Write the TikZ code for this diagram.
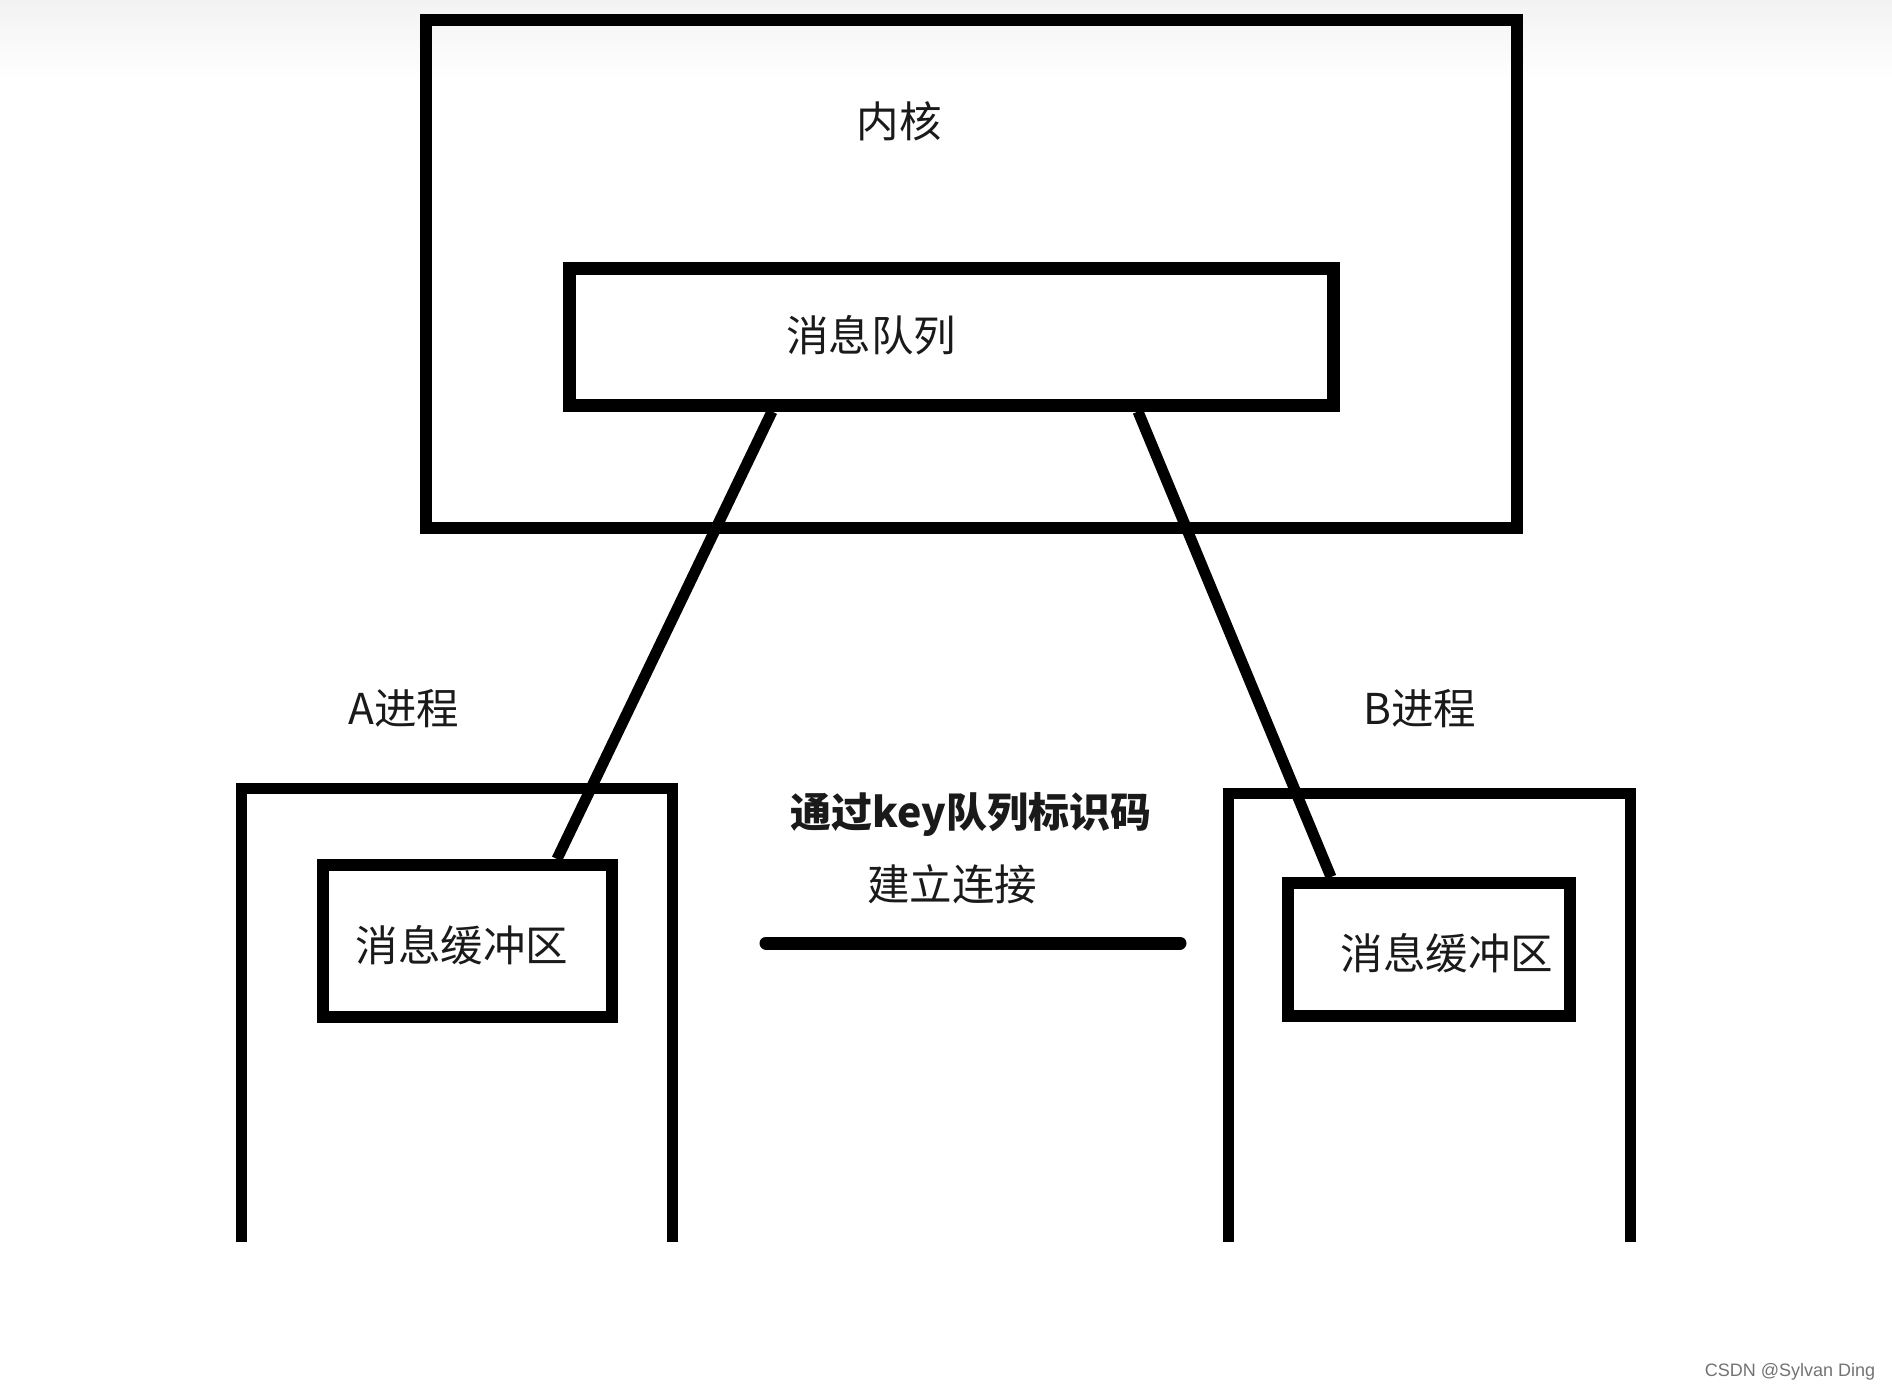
\documentclass[tikz,border=0pt]{standalone}
\usepackage{fontspec}
\setmainfont{Liberation Sans}
\newfontfamily\cjk{Noto Sans CJK SC}
\usetikzlibrary{calc}
\definecolor{ink}{HTML}{1A1A1A}
\tikzset{
  box/.style={draw=black, rectangle, inner sep=0pt, fill=none, line join=miter},
  lbl/.style={text=ink, font=\cjk\fontsize{42.5}{50}\selectfont, inner sep=0pt, anchor=center},
  wire/.style={draw=black, line width=11pt},
}
\begin{document}
\begin{tikzpicture}[x=1pt,y=-1pt]
\useasboundingbox (0,0) rectangle (1892,1392);
\fill[white] (0,0) rectangle (1892,1392);
\shade[top color=black!5, bottom color=white] (0,0) rectangle (1892,80);
% kernel box
\node[box, line width=12pt, minimum width=1091pt, minimum height=508pt] (kernel) at (971.5,274) {};
\node[box, line width=13pt, minimum width=764pt, minimum height=137pt] (queue) at (951,336.5) {};
% process frames (open at bottom)
\draw[line width=11pt, line join=miter] (241,1242) -- (241,788) -- (672,788) -- (672,1242);
\draw[line width=11pt, line join=miter] (1228,1242) -- (1228,793) -- (1630,793) -- (1630,1242);
% buffers
\node[box, line width=12pt, minimum width=289pt, minimum height=152pt] (bufA) at (467.5,941) {};
\node[box, line width=12pt, minimum width=282pt, minimum height=133pt] (bufB) at (1429,949.5) {};
% connectors
\draw[wire] ([xshift=-179pt]queue.south) -- ([xshift=89.5pt]bufA.north);
\draw[wire] ([xshift=187pt]queue.south) -- ([xshift=-98pt]bufB.north);
\coordinate (m1) at (766,943);
\coordinate (m2) at (1180,943);
\draw[line width=13pt, line cap=round] (m1) -- (m2);
% labels
\node[lbl] (tkernel) at (899,121) {内核};
\node[lbl] (tqueue) at (871,335) {消息队列};
\node[lbl] (tA) at (404,709) {A进程};
\node[lbl] (tB) at (1420,709) {B进程};
\node[lbl, font=\cjk\bfseries\fontsize{41}{48}\selectfont] (tkey) at (971,814) {通过key队列标识码};
\node[lbl] (tconn) at (952,884) {建立连接};
\node[lbl] (tbufA) at (462,945) {消息缓冲区};
\node[lbl] (tbufB) at (1447,953) {消息缓冲区};
\node[text=black!55, font=\fontsize{18}{22}\selectfont, inner sep=0pt] (wm) at (1790,1372) {CSDN @Sylvan Ding};
\end{tikzpicture}
\end{document}
